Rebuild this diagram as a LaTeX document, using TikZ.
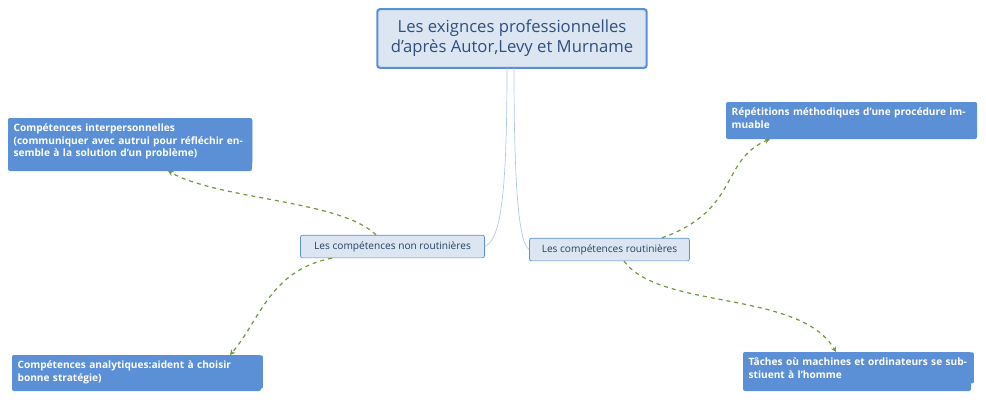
\documentclass[tikz,border=0pt]{standalone}
\usepackage{fontspec}
\setmainfont{Open Sans}
\usetikzlibrary{arrows.meta}
\definecolor{bl}{HTML}{5B8FD6}
\definecolor{lb}{HTML}{DCE6F2}
\definecolor{tx}{HTML}{2F4F7F}
\definecolor{gr}{HTML}{6E9A3A}
\tikzset{
 rootbox/.style={draw=bl,line width=1.6pt,fill=lb,rounded corners=2pt,text=tx,font=\fontsize{12.5}{15}\selectfont,align=center,minimum width=202pt,minimum height=44pt},
 midbox/.style={draw=bl,line width=0.5pt,fill=lb,rounded corners=1.5pt,text=tx!80!black,font=\fontsize{7.6}{9}\selectfont,minimum height=17pt,inner xsep=4pt},
 leafbox/.style={fill=bl,rounded corners=1.5pt,text=white,font=\bfseries\fontsize{7.6}{9.5}\selectfont,align=left,anchor=north west,inner sep=4pt,text width=#1},
 link/.style={draw=bl!50,line width=0.5pt},
 garr/.style={draw=gr,line width=0.9pt,dashed,-{Stealth[length=4pt,width=4pt]}}
}
\begin{document}
\begin{tikzpicture}[x=0.75pt,y=-0.75pt]
\useasboundingbox (0,0) rectangle (986,401);
\node[rootbox] (root) at (512,38.5) {Les exignces professionnelles\\d'après Autor,Levy et Murname};
\node[midbox,minimum width=138pt] (nr) at (392.5,246.5) {Les compétences non routinières};
\node[midbox,minimum width=120pt] (r) at (609.5,249.5) {Les compétences routinières};
\fill[bl,rounded corners=1.5pt] (8,118) rectangle (252,171);
\node[leafbox=175pt] (ip) at (8,118) {Compétences interpersonnelles\\(communiquer avec autrui pour réfléchir ensemble à la solution d'un problème)};
\fill[bl,rounded corners=1.5pt] (12,355) rectangle (261,391);
\node[leafbox=180pt] (an) at (12,355) {Compétences analytiques:aident à choisir bonne stratégie)};
\fill[bl,rounded corners=1.5pt] (726,102) rectangle (977,139);
\node[leafbox=180pt] (rep) at (726,102) {Répétitions méthodiques d'une procédure immuable};
\fill[bl,rounded corners=1.5pt] (743,352) rectangle (971,391);
\node[leafbox=165pt] (ta) at (743,352) {Tâches où machines et ordinateurs se substiuent à l'homme};
\coordinate (ipc) at (168,171);
\coordinate (anc) at (230,355);
\coordinate (repc) at (770,139);
\coordinate (tac) at (836,352);
\draw[link] (507,68) .. controls (507,200) and (500,240) .. (nr.east);
\draw[link] (514,68) .. controls (514,200) and (520,244) .. (r.west);
\draw[garr] (nr.north -| 376,0) .. controls (340,200) and (220,200) .. (ipc);
\draw[garr] (nr.south -| 332,0) .. controls (270,270) and (260,320) .. (anc);
\draw[garr] (r.north -| 662,0) .. controls (740,210) and (720,160) .. (repc);
\draw[garr] (r.south -| 624,0) .. controls (660,310) and (800,290) .. (tac);
\end{tikzpicture}
\end{document}
